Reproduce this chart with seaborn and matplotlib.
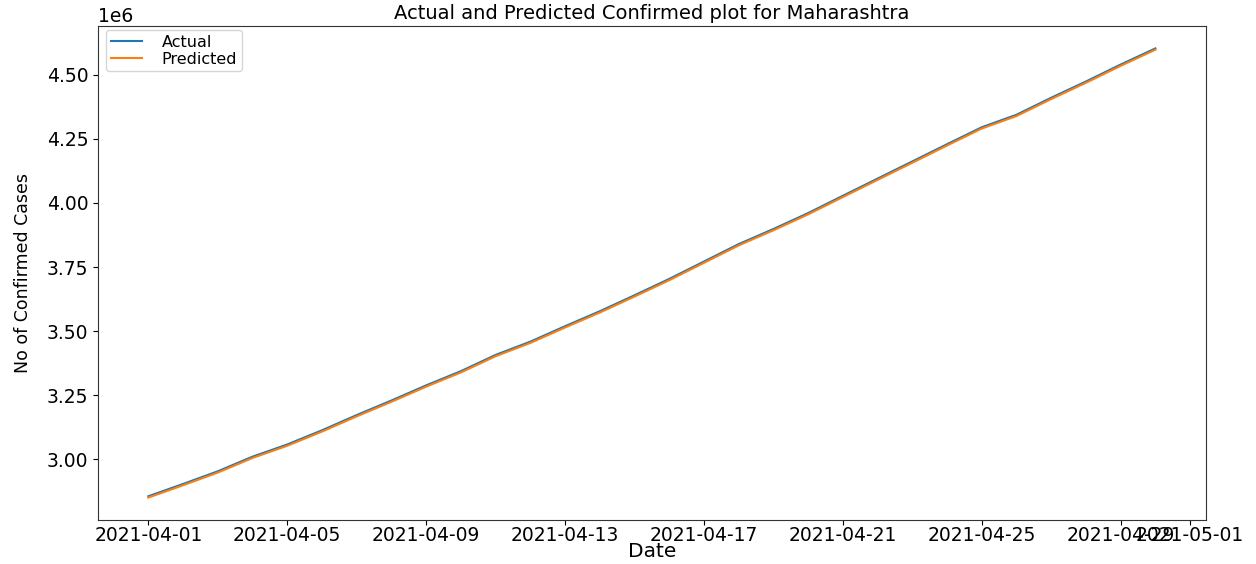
import matplotlib
matplotlib.use("Agg")
import matplotlib.pyplot as plt
import seaborn as sns
import pandas as pd

dates = pd.date_range("2021-04-01", "2021-04-30", freq="D")
actual = [2856163, 2904076, 2953523, 3010597, 3058069, 3113354, 3172729, 3229547,
          3288540, 3343951, 3407245, 3458996, 3519208, 3577550, 3639855, 3703584,
          3771376, 3839338, 3898262, 3960359, 4027827, 4094840, 4161676, 4228836,
          4295027, 4343727, 4410085, 4473394, 4539553, 4602472]
predicted = [2851200, 2899100, 2948600, 3005500, 3053100, 3108300, 3167700, 3224500,
             3283500, 3338900, 3402200, 3454000, 3514200, 3572500, 3634800, 3698500,
             3766300, 3834300, 3893200, 3955300, 4022800, 4089800, 4156600, 4223800,
             4290000, 4338700, 4405000, 4468400, 4534500, 4597400]

df = pd.DataFrame({"Date": dates, "Actual": actual, "Predicted": predicted})

fig = plt.figure(figsize=(12.56, 5.64), dpi=100)
ax = fig.add_axes([0.078, 0.078, 0.882, 0.876])
sns.lineplot(data=df, x="Date", y="Actual", ax=ax, label="Actual", color="#1f77b4", linewidth=1.5)
sns.lineplot(data=df, x="Date", y="Predicted", ax=ax, label="Predicted", color="#ff7f0e", linewidth=1.5)

ax.set_title("Actual and Predicted Confirmed plot for Maharashtra", fontsize=14, pad=5)
ax.set_xlabel("Date", fontsize=14.5)
ax.xaxis.set_label_coords(0.5, -0.045)

ax.set_ylabel("No of Confirmed Cases", fontsize=12.5)
ax.yaxis.set_label_coords(-0.060, 0.5)

ax.tick_params(axis="y", labelsize=13.5)
ax.tick_params(axis="x", labelsize=13.5, pad=0.5)
ax.yaxis.get_offset_text().set_fontsize(13.5)
for s in ax.spines.values():
    s.set_color("#333333")
ax.legend(loc="upper left", bbox_to_anchor=(0.007, 0.992), borderaxespad=0,
          fontsize=11.5, labelspacing=0.12, borderpad=0.3, handletextpad=1.2)

fig.savefig("out.png", dpi=100)
